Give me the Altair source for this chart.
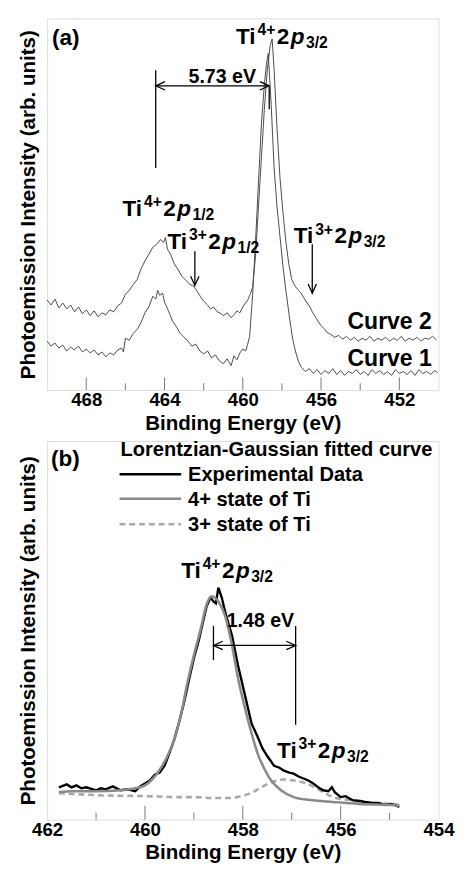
import altair as alt
import pandas as pd

FONT = "Liberation Sans"

# ---------------- panel (a) data : binding energy (eV) / intensity (arb.) ----------------
c1_ev = [470.0, 469.8, 469.6, 469.4, 469.2, 469.0, 468.8, 468.6, 468.4, 468.2,
         468.0, 467.8, 467.6, 467.4, 467.2, 467.0, 466.8, 466.6, 466.4, 466.2,
         466.1, 466.0, 465.8, 465.6, 465.4, 465.2, 465.0, 464.8, 464.6, 464.45,
         464.35, 464.25, 464.1, 464.0, 463.8, 463.6, 463.4, 463.2, 463.0, 462.8,
         462.6, 462.4, 462.2, 462.0, 461.8, 461.6, 461.4, 461.2, 461.0, 460.8,
         460.6, 460.45, 460.3, 460.15, 460.0, 459.85, 459.75, 459.65, 459.5, 459.35,
         459.2, 459.05, 458.9, 458.8, 458.7, 458.55, 458.4, 458.25, 458.1, 457.95,
         457.8, 457.6, 457.45, 457.3, 457.15, 457.0,
         456.8, 456.6, 456.4, 456.2, 456.0, 455.8, 455.6, 455.4, 455.2, 455.0,
         454.8, 454.6, 454.4, 454.2, 454.0, 453.8, 453.6, 453.4, 453.2, 453.0,
         452.8, 452.6, 452.4, 452.2, 452.0, 451.8, 451.6, 451.4, 451.2, 451.0,
         450.8, 450.6, 450.4, 450.2, 450.05]
c1_int = [50, 45, 48, 43, 46, 40, 44, 41, 45, 39,
          42, 38, 41, 36, 39, 34, 38, 36, 41, 43,
          39, 53, 51, 58, 62, 69, 79, 85, 96, 93,
          102, 97, 99, 90, 81, 71, 65, 58, 54, 50,
          45, 47, 40, 37, 40, 33, 36, 30, 27, 32,
          25, 35, 31, 38, 42, 40, 47, 55, 97, 152,
          212, 272, 312, 332, 344, 292, 227, 187, 157, 127,
          102, 72, 52, 39, 29, 23,
          19, 22, 17, 21, 16, 20, 17, 22, 16, 20,
          15, 19, 17, 21, 16, 19, 15, 21, 17, 20,
          16, 19, 15, 21, 17, 19, 16, 20, 15, 21,
          17, 19, 16, 20, 18]

c2_ev = [470.0, 469.8, 469.6, 469.4, 469.2, 469.0, 468.8, 468.6, 468.4, 468.2,
         468.0, 467.8, 467.6, 467.4, 467.2, 467.0, 466.8, 466.6, 466.4, 466.2,
         466.0, 465.8, 465.6, 465.4, 465.2, 465.0, 464.8, 464.6, 464.4, 464.2,
         464.05, 463.95, 463.85, 463.7, 463.5, 463.3, 463.1, 462.9, 462.7, 462.5,
         462.3, 462.15, 462.0, 461.8, 461.65, 461.5, 461.3, 461.1, 461.0, 460.8,
         460.6, 460.45, 460.3, 460.15, 460.0, 459.9, 459.75, 459.6, 459.5, 459.35,
         459.2, 459.05, 458.9, 458.75, 458.6, 458.5, 458.4, 458.25, 458.1, 457.95,
         457.8, 457.65, 457.5, 457.35, 457.2, 457.05, 456.9, 456.75, 456.6, 456.45,
         456.3, 456.15, 456.0, 455.85, 455.7, 455.5, 455.3, 455.1, 454.9, 454.7,
         454.5, 454.3, 454.1, 453.9, 453.7, 453.5, 453.3, 453.1, 452.9, 452.7,
         452.5, 452.3, 452.1, 451.9, 451.7, 451.5, 451.3, 451.1, 450.9, 450.7,
         450.5, 450.3, 450.1]
c2_int = [92, 87, 93, 84, 89, 83, 87, 80, 85, 78,
          82, 76, 81, 75, 79, 77, 82, 80, 86, 89,
          98, 102, 108, 113, 124, 132, 139, 146, 149, 154,
          151, 156, 144, 139, 129, 123, 116, 112, 108, 106,
          100, 95, 91, 87, 83, 85, 80, 78, 76, 79,
          74, 77, 81, 79, 85, 88, 92, 99, 105, 137,
          187, 237, 287, 327, 352, 359, 327, 267, 217, 182,
          152, 129, 113, 107, 103, 100, 95, 90, 86, 80,
          75, 70, 66, 63, 59, 57, 54, 56, 52, 55,
          51, 54, 50, 53, 51, 55, 50, 53, 51, 54,
          50, 53, 51, 55, 50, 53, 51, 54, 50, 53,
          52, 55, 51]

# ---------------- panel (b) data ----------------
exp_ev = [461.76, 461.6, 461.5, 461.4, 461.3, 461.2, 461.0, 460.9, 460.8, 460.66,
          460.5, 460.35, 460.2, 460.1, 460.0, 459.9, 459.8, 459.7, 459.6, 459.5,
          459.4, 459.3, 459.2, 459.1, 459.0, 458.9, 458.8, 458.74, 458.66, 458.6,
          458.55, 458.5, 458.43, 458.36, 458.22, 458.1, 457.96, 457.82, 457.7, 457.6,
          457.5, 457.36, 457.25, 457.16, 457.05, 456.96, 456.86, 456.76, 456.66, 456.56,
          456.46, 456.36, 456.25, 456.18, 456.12, 456.0, 455.9, 455.76, 455.6, 455.5,
          455.35, 455.22, 455.1, 454.96, 454.8]
exp_int = [33, 36, 33, 35, 32, 33, 30, 32, 31, 34,
           30, 31, 29, 34, 37, 40, 46, 48, 55, 68,
           82, 100, 120, 143, 165, 183, 205, 218, 227, 223,
           221, 237, 227, 212, 188, 158, 128, 98, 85, 73,
           65, 55, 53, 50, 48, 47, 44, 42, 40, 37,
           33, 30, 29, 33, 28, 23, 24, 20, 19, 18,
           17, 17, 15, 16, 13]

ti4_ev = [461.76, 461.5, 461.0, 460.5, 460.2, 460.0, 459.74, 459.54, 459.4, 459.26,
          459.14, 459.0, 458.86, 458.74, 458.64, 458.5, 458.36, 458.22, 458.1, 457.96,
          457.82, 457.7, 457.56, 457.42, 457.22, 456.96, 456.62, 456.16, 455.62, 454.96,
          454.8]
ti4_int = [28, 29, 29, 30, 32, 35, 48, 65, 82, 108,
           138, 168, 195, 220, 228, 223, 208, 178, 145, 115,
           88, 68, 52, 40, 30, 23, 20, 18, 16, 15,
           14]

ti3_ev = [461.76, 461.0, 460.0, 459.3, 458.96, 458.6, 458.3, 457.96, 457.8, 457.62,
          457.42, 457.16, 456.96, 456.7, 456.42, 456.16, 455.82, 455.42, 454.96, 454.8]
ti3_int = [27, 25, 24, 23, 23, 22, 22, 25, 28, 33,
           38, 41, 40, 37, 30, 23, 20, 17, 16, 15]

series_b = ["Experimental Data", "4+ state of Ti", "3+ state of Ti"]
series_b_color = ["#000000", "#8a8a8a", "#a8a8a8"]
series_b_dash = [[1, 0], [1, 0], [6, 4]]

# axis ticks
a_major = [468, 464, 460, 456, 452]
a_minor = [466, 462, 458, 454]
b_major = [460, 458, 456]
b_minor = [461, 459, 457, 455]

W = 400
HA = 380
HB = 387

# ---------------- helpers ----------------
EM = {"T": .611, "i": .278, "p": .611, "+": .584, "/": .278, "1": .556, "2": .556,
      "3": .556, "4": .556}


def twidth(s, size):
    return sum(EM.get(ch, .556) for ch in s) * size


def xenc(domain, values):
    return alt.X("eV:Q",
                 scale=alt.Scale(domain=domain, reverse=True, nice=False, zero=False),
                 axis=alt.Axis(values=values, title="Binding Energy (eV)", grid=False,
                               tickSize=0, domain=False, labelFontSize=19,
                               labelFontWeight="bold", labelPadding=1, labelFlush=False,
                               titleFontSize=21, titleFontWeight="bold", titlePadding=3,
                               labelColor="black", titleColor="black"))


def yenc(top):
    return alt.Y("I:Q", scale=alt.Scale(domain=[0, top], nice=False, zero=False),
                 axis=alt.Axis(title="Photoemission Intensity (arb. units)", labels=False,
                               ticks=False, domain=False, grid=False, titleFontSize=21,
                               titleFontWeight="bold", titlePadding=9, minExtent=0,
                               maxExtent=0, titleColor="black"))


def make_layers(X, Y):
    def pt(ev, i):
        return pd.DataFrame({"eV": [ev], "I": [i]})

    def text(ev, i, s, size, align="left", dx=0, dy=0, style="normal"):
        return alt.Chart(pt(ev, i)).mark_text(
            text=s, font=FONT, fontSize=size, fontWeight="bold", fontStyle=style,
            align=align, baseline="alphabetic", dx=dx, dy=dy, color="black"
        ).encode(x=X, y=Y)

    def rich(ev, i, sup, sub, base=23, scr=16):
        parts = [("Ti", base, 0, "normal"), (sup, scr, -9, "normal"),
                 ("2", base, 0, "normal"), ("p", base, 0, "italic"), (sub, scr, 4, "normal")]
        out = []
        off = 0.0
        for s, size, dy, style in parts:
            out.append(text(ev, i, s, size, dx=off, dy=dy, style=style))
            off += twidth(s, size) + 1.5
        return out

    def seg(ev1, i1, ev2, i2, color="black", width=1.3, dash=None):
        df = pd.DataFrame({"eV": [ev1], "I": [i1], "eV2": [ev2], "I2": [i2]})
        kw = dict(color=color, strokeWidth=width)
        if dash:
            kw["strokeDash"] = dash
        return alt.Chart(df).mark_rule(**kw).encode(
            x=X, y=Y, x2=alt.X2("eV2:Q"), y2=alt.Y2("I2:Q"))

    def head(ev, i, direction, size=90):
        shapes = {"left": "M2,-0.9L0,0L2,0.9", "right": "M-2,-0.9L0,0L-2,0.9",
                  "down": "M-0.9,-2L0,0L0.9,-2"}
        return alt.Chart(pt(ev, i)).mark_point(
            shape=shapes[direction], filled=False, stroke="black", strokeWidth=1.3,
            size=size, opacity=1).encode(x=X, y=Y)

    return text, rich, seg, head


def ticks(X, vals, height, length):
    return alt.Chart(pd.DataFrame({"eV": vals})).mark_rule(
        color="#777", strokeWidth=1).encode(
        x=X, y=alt.value(height), y2=alt.value(height - length))


# ---------------- panel (a) ----------------
XA = xenc([450, 470], a_major)
YA = yenc(HA)
textA, richA, segA, headA = make_layers(XA, YA)

df_a = pd.concat([
    pd.DataFrame({"eV": c1_ev, "I": c1_int, "curve": "Curve 1"}),
    pd.DataFrame({"eV": c2_ev, "I": c2_int, "curve": "Curve 2"}),
])
curves_a = alt.Chart(df_a).mark_line(color="#4a4a4a", strokeWidth=1).encode(
    x=XA, y=YA, detail="curve:N")

layers_a = [curves_a, ticks(XA, a_major, HA, 13), ticks(XA, a_minor, HA, 7),
            textA(469.75, 353, "(a)", 23),
            textA(461.05, 314, "5.73 eV", 20, align="center"),
            segA(464.45, 311, 458.65, 311), headA(464.45, 311, "left"),
            headA(458.65, 311, "right"),
            segA(464.45, 327, 464.45, 227), segA(458.65, 310, 458.65, 287),
            segA(462.45, 142, 462.45, 107), headA(462.45, 107, "down"),
            segA(456.45, 149, 456.45, 99), headA(456.45, 99, "down"),
            textA(454.65, 62, "Curve 2", 23.5),
            textA(454.65, 25, "Curve 1", 23.5)]
layers_a += richA(460.35, 354, "4+", "3/2")
layers_a += richA(466.15, 178, "4+", "1/2")
layers_a += richA(463.85, 144, "3+", "1/2")
layers_a += richA(457.4, 150, "3+", "3/2")

panel_a = alt.layer(*layers_a).properties(width=W, height=HA)

# ---------------- panel (b) ----------------
XB = xenc([454, 462], [462, 460, 458, 456, 454])
YB = yenc(HB)
textB, richB, segB, headB = make_layers(XB, YB)

fit4 = alt.Chart(pd.DataFrame({"eV": ti4_ev, "I": ti4_int})).mark_line(
    color=series_b_color[1], strokeWidth=2.6, interpolate="monotone").encode(x=XB, y=YB)
fit3 = alt.Chart(pd.DataFrame({"eV": ti3_ev, "I": ti3_int})).mark_line(
    color=series_b_color[2], strokeWidth=2.6, strokeDash=series_b_dash[2],
    interpolate="monotone").encode(x=XB, y=YB)
expd = alt.Chart(pd.DataFrame({"eV": exp_ev, "I": exp_int})).mark_line(
    color=series_b_color[0], strokeWidth=2.4).encode(x=XB, y=YB)

layers_b = [fit3, expd, fit4, ticks(XB, b_major, HB, 14), ticks(XB, b_minor, HB, 7),
            textB(461.92, 361, "(b)", 23),
            textB(460.5, 372, "Lorentzian-Gaussian fitted curve", 20.5)]
legend_y = [353, 328, 302]
for name, col, dash, ly in zip(series_b, series_b_color, series_b_dash, legend_y):
    layers_b.append(segB(460.52, ly, 459.26, ly, color=col, width=2.6,
                         dash=dash if dash != [1, 0] else None))
    layers_b.append(textB(459.12, ly - 7, name, 20.5))
layers_b += [textB(457.64, 197, "1.48 eV", 20, align="center"),
             segB(458.6, 198, 458.6, 163), segB(456.92, 198, 456.92, 97),
             segB(458.6, 178, 456.92, 178), headB(458.6, 178, "left"),
             headB(456.92, 178, "right")]
layers_b += richB(459.26, 247, "4+", "3/2")
layers_b += richB(457.3, 63, "3+", "3/2")

panel_b = alt.layer(*layers_b).properties(width=W, height=HB)

chart = alt.vconcat(panel_a, panel_b, spacing=5).properties(
    padding={"left": 9, "top": 0, "right": 5, "bottom": 0},
    background="white",
).configure_view(stroke="#888", strokeWidth=1).configure(font=FONT)

chart.save("out.html", embed_options={"renderer": "svg", "actions": False})
